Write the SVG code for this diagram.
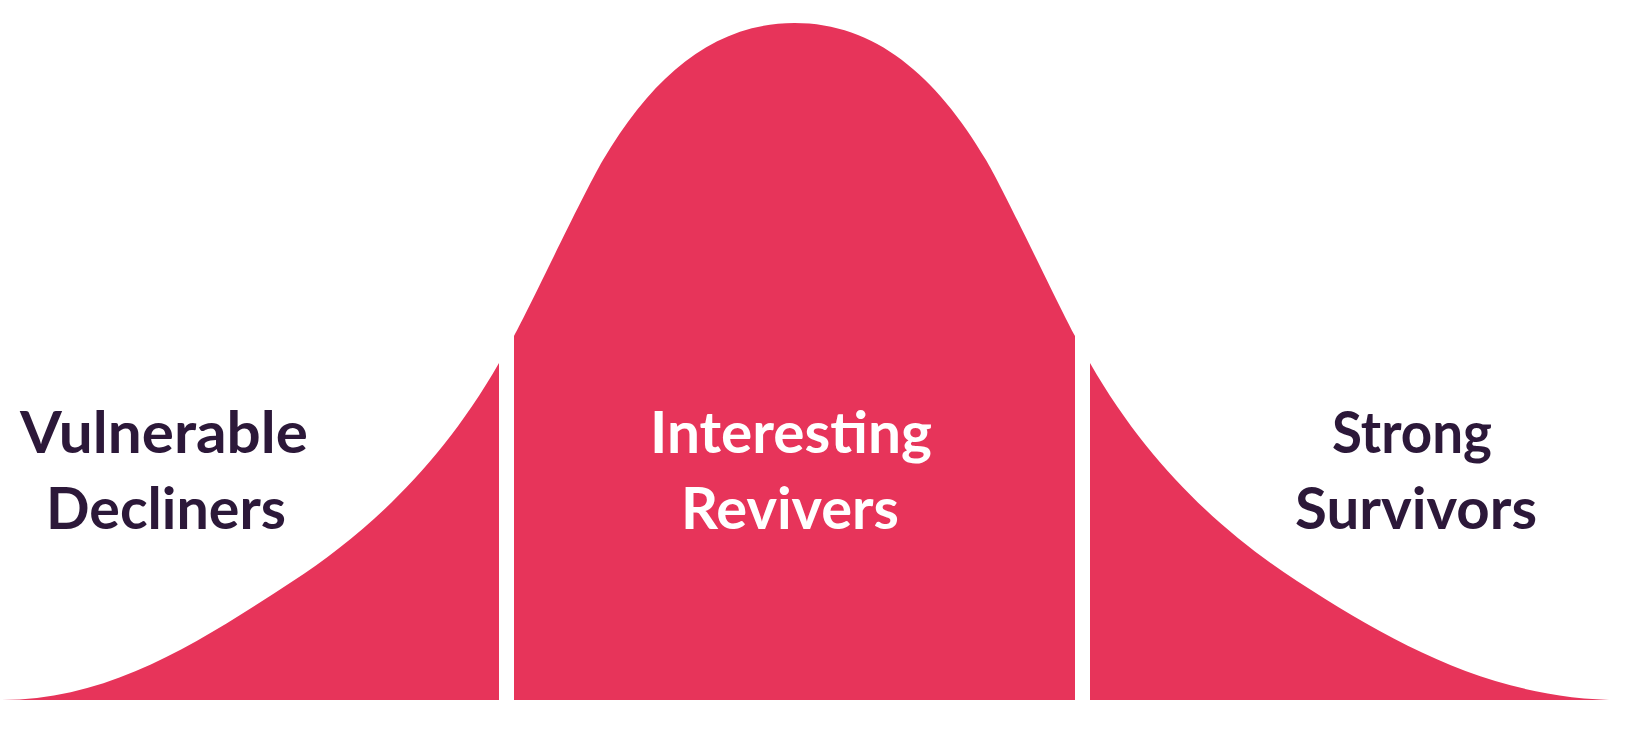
<svg xmlns="http://www.w3.org/2000/svg" width="1630" height="736" viewBox="0 0 1630 736">
  <style>
    .seg { fill: #E7345A; stroke: none; }
    .lbl { font-family: Lato, "Open Sans", "Liberation Sans", sans-serif; font-weight: 700; font-size: 58px; text-anchor: middle; }
    .dark { fill: #2C1839; }
    .light { fill: #FFFFFF; }
  </style>
  <rect width="1630" height="736" fill="#FFFFFF"/>
  <g id="vulnerable-decliners">
    <path class="seg" d="M2,700 C112,700 203,639.5 293,581 C363,535.5 439,468 499,363 L499,700 Z"/>
    <text class="lbl dark" x="164" y="453" textLength="288" lengthAdjust="spacingAndGlyphs">Vulnerable</text>
    <text class="lbl dark" x="166" y="529" textLength="240" lengthAdjust="spacingAndGlyphs">Decliners</text>
  </g>
  <g id="interesting-revivers">
    <path class="seg" d="M514,700 L514,336 C529,309 583,194 603,160 C653,75.5 714,23 794.5,23 C875,23 936,75.5 986,160 C1006,194 1060,309 1075,336 L1075,700 Z"/>
    <text class="lbl light" x="791" y="453" textLength="282" lengthAdjust="spacingAndGlyphs">Interesting</text>
    <text class="lbl light" x="790" y="529" textLength="218" lengthAdjust="spacingAndGlyphs">Revivers</text>
  </g>
  <g id="strong-survivors">
    <path class="seg" d="M1090,700 L1090,363 C1150,468 1227,535.5 1297,581 C1397,646 1497,700 1622,700 Z"/>
    <text class="lbl dark" x="1412" y="453" textLength="160" lengthAdjust="spacingAndGlyphs">Strong</text>
    <text class="lbl dark" x="1416" y="529" textLength="242" lengthAdjust="spacingAndGlyphs">Survivors</text>
  </g>
  <g id="connectors"></g>
</svg>
